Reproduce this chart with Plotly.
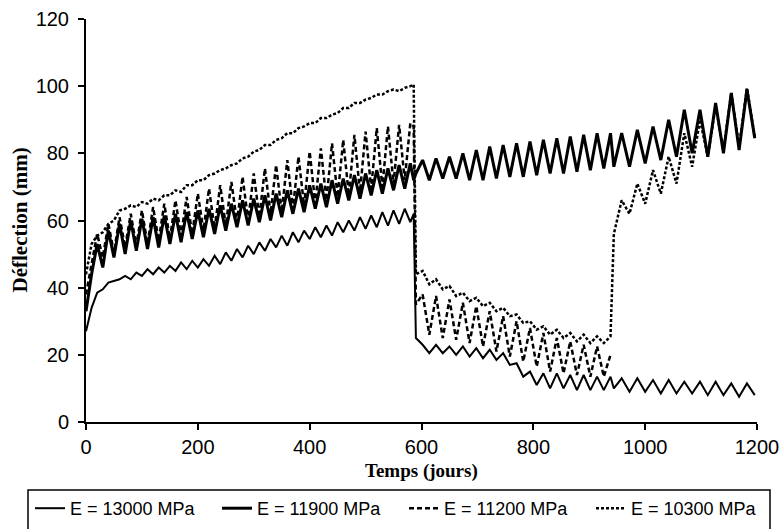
import plotly.graph_objects as go

# ---------------- data ----------------
# time grids (days)
P1 = list(range(0, 581, 10))      # first period 0..580
DROP = [586]                      # last point before the drop
P2 = list(range(590, 939, 12))    # 590..938
P3 = list(range(944, 1197, 14))   # 944..1196

labels = ["E = 13000 MPa", "E = 11900 MPa", "E = 11200 MPa", "E = 10300 MPa"]

# E = 13000 MPa (solid, thin)
d13000_p1 = [27, 34, 38.5, 39.5, 41.5, 42, 42.5, 43.5, 42.5, 44.5, 43.5, 45.5, 44, 46, 44.5,
             46.5, 45, 47.5, 45.5, 48, 46, 48.5, 46.5, 49.5, 47, 50.5, 48, 51.5, 49, 52.5,
             50, 53.5, 51, 54.5, 52, 55.5, 52.5, 56.5, 53.5, 57, 54.5, 58, 55, 58.5, 55.5,
             59.5, 56.5, 60, 57, 61, 57.5, 61.5, 58, 62.5, 58.5, 63, 59, 63.5, 59.5]
d13000_drop = [62]
d13000_p2 = [25, 23, 20.5, 23, 20.5, 22.5, 20, 22.5, 19.5, 22, 19, 21.5, 18.5, 20.5, 17,
             17.5, 13.5, 15, 11, 14.5, 10, 14.5, 10, 14, 9.5, 14, 9.5, 13.5, 9.5, 13.5]
d13000_p3 = [10, 13, 9, 13, 9, 12.5, 8.5, 12.5, 8.5, 12, 8.5, 12, 8, 12, 8, 11.5, 7.5, 11.5, 8]

# E = 11900 MPa (solid, thick) - no drop
d11900_p1 = [33, 44, 53, 46, 57, 49, 59, 50, 60, 51, 60.5, 51.5, 61, 52, 61.5, 53, 62, 53.5,
             62.5, 54.5, 63, 55, 63.5, 56, 64.5, 57, 65, 58, 66, 58.5, 66.5, 59.5, 67.5, 60,
             68, 61, 69, 62, 69.5, 62.5, 70.5, 63.5, 71, 64, 72, 65, 72.5, 66, 73.5, 66.5,
             74, 67.5, 75, 68, 75.5, 69, 76.5, 69.5, 77]
d11900_drop = [72]
d11900_p2 = [74, 78, 72, 78.5, 72.5, 79, 72.5, 80, 72, 81, 72, 82, 72.5, 82.5, 73, 83, 73,
             83.5, 73.5, 84, 74, 84.5, 74, 85, 74.5, 85.5, 75, 86, 75.5, 86]
d11900_p3 = [76, 86, 76, 87, 77, 88, 78, 90, 79, 93, 80, 93, 79, 95, 80, 98, 81, 99, 84.5]

# E = 11200 MPa (dashed) - ends near day 940
d11200_p1 = [38, 47, 56, 49, 59, 50.5, 61, 52, 62, 52.5, 63, 53, 64, 54, 65, 54.5, 66, 55.5,
             67, 56, 68, 57, 69.5, 57.5, 70.5, 58.5, 71.5, 59.5, 73, 60, 74, 61, 75.5, 62,
             76.5, 62.5, 78, 63.5, 79, 64.5, 80.5, 65, 81.5, 66, 83, 67, 84, 67.5, 85.5, 68.5,
             86.5, 69.5, 87.5, 70, 88, 71, 88.5, 72, 89]
d11200_drop = [88]
d11200_p2 = [35, 38, 26, 37.5, 25, 36.5, 24.5, 35.5, 23.5, 34.5, 22.5, 33, 21, 31.5, 19.5,
             30, 18, 28, 16.5, 26.5, 15, 25, 14.5, 24, 14, 23, 13.5, 22.5, 13.5, 20]

# E = 10300 MPa (dotted)
d10300_p1 = [44, 53, 55.5, 56.5, 59, 60, 63, 63.5, 64.5, 64, 65.5, 65, 66.5, 66, 67.5, 67.5,
             69, 68.5, 70.5, 70.5, 72, 72, 73.5, 74, 75, 75.5, 76.5, 77, 78.5, 79, 80.5, 81,
             82.5, 82.5, 84, 84.5, 86, 86, 87.5, 88, 89, 89, 90.5, 90.5, 91.5, 92, 93.5, 93.5,
             95, 95, 96, 96.5, 97.5, 97.5, 98.5, 99, 98.5, 99.5, 100]
d10300_drop = [100.5]
d10300_p2 = [44, 45, 41, 42.5, 39.5, 40.5, 37.5, 38.5, 36, 37, 34.5, 35.5, 33, 34, 31.5, 32,
             29.5, 30, 27.5, 28.5, 26, 27.5, 25, 26.5, 24, 26, 23.5, 25.5, 23.5, 25.5]
d10300_p3 = [56, 66, 62, 71, 65, 75, 68, 79, 71, 86, 76, 90, 79, 94, 81, 98, 82, 99.5, 85]

# ---------------- figure ----------------
series = [
    (labels[0], P1 + DROP + P2 + P3, d13000_p1 + d13000_drop + d13000_p2 + d13000_p3,
     dict(color="black", width=2, dash="solid")),
    (labels[1], P1 + DROP + P2 + P3, d11900_p1 + d11900_drop + d11900_p2 + d11900_p3,
     dict(color="black", width=3, dash="solid")),
    (labels[2], P1 + DROP + P2, d11200_p1 + d11200_drop + d11200_p2,
     dict(color="black", width=2.5, dash="5px,3px")),
    (labels[3], P1 + DROP + P2 + P3, d10300_p1 + d10300_drop + d10300_p2 + d10300_p3,
     dict(color="black", width=2.5, dash="3px,2px")),
]

fig = go.Figure()
for name, xs, ys, line in series:
    fig.add_trace(go.Scatter(x=xs, y=ys, mode="lines", name=name, line=line))

W, H = 784, 529
L, R, T, B = 86, 27, 19, 107
pw, ph = W - L - R, H - T - B

def px_x(px):
    return (px - L) / pw

def px_y(py):
    return (H - B - py) / ph

tick_font = dict(family="Liberation Sans, Arial, sans-serif", size=20, color="black")

fig.update_layout(
    width=W, height=H,
    margin=dict(l=L, r=R, t=T, b=B, autoexpand=False),
    paper_bgcolor="white", plot_bgcolor="white",
    showlegend=True,
    legend=dict(
        orientation="h", x=px_x(30), y=px_y(490), xanchor="left", yanchor="top",
        font=dict(family="Liberation Sans, Arial, sans-serif", size=18, color="black"),
        bgcolor="rgba(0,0,0,0)", borderwidth=0, itemwidth=30, entrywidth=142,
    ),
    xaxis=dict(range=[0, 1200], tickvals=[0, 200, 400, 600, 800, 1000, 1200],
               showline=True, linecolor="black", linewidth=2, showgrid=False, zeroline=False,
               ticks="outside", ticklen=6, tickwidth=2, tickcolor="black", tickfont=tick_font),
    yaxis=dict(range=[0, 120], tickvals=[0, 20, 40, 60, 80, 100, 120],
               showline=True, linecolor="black", linewidth=2, showgrid=False, zeroline=False,
               ticks="outside", ticklen=6, tickwidth=2, tickcolor="black", tickfont=tick_font,
               ticklabelstandoff=5),
    shapes=[dict(type="rect", xref="paper", yref="paper",
                 x0=px_x(28), x1=px_x(770), y0=px_y(490), y1=px_y(540),
                 line=dict(color="black", width=1.5), fillcolor="rgba(0,0,0,0)")],
    annotations=[
        dict(text="<b>Temps (jours)</b>", xref="paper", yref="paper", x=0.5, y=px_y(471),
             xanchor="center", yanchor="middle", showarrow=False,
             font=dict(family="Liberation Serif, Times New Roman, serif", size=19, color="black")),
        dict(text="<b>Déflection (mm)</b>", xref="paper", yref="paper", x=px_x(19), y=0.5,
             xanchor="center", yanchor="middle", textangle=-90, showarrow=False,
             font=dict(family="Liberation Serif, Times New Roman, serif", size=21, color="black")),
    ],
)

fig.write_html("out.html")
